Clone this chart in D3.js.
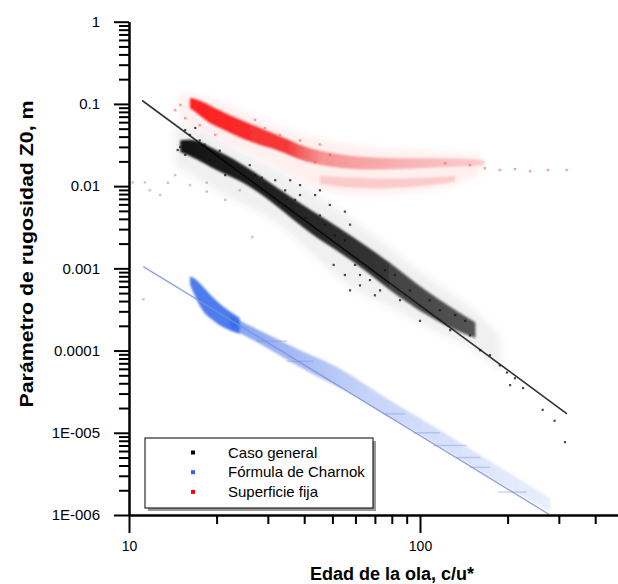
<!DOCTYPE html>
<html>
<head>
<meta charset="utf-8">
<script src="https://cdn.jsdelivr.net/npm/d3@7"></script>
<style>
  body { margin: 0; background: #fff; }
  text { font-family: Arial, "Liberation Sans", sans-serif; }
</style>
</head>
<body>
<div id="chart"></div>
<script>
'use strict';

// ---- data (x = c/u*, y = Z0 in m) ----
const seriesNames = ['Caso general', 'Fórmula de Charnok', 'Superficie fija'];

const yTickValues = [1, 0.1, 0.01, 0.001, 0.0001, 1e-5, 1e-6];
const yTickLabels = ['1', '0.1', '0.01', '0.001', '0.0001', '1E-005', '1E-006'];
const xTickValues = [10, 100];
const xTickLabels = ['10', '100'];

// fitted lines
const casoLineX = [11.1, 320];
const casoLineY = [0.11, 1.7e-5];
const charnokLineX = [11.2, 280];
const charnokLineY = [0.00105, 1e-6];

// caso general: dense core, sparse cloud, single points
const casoCoreX  = [15, 16.9, 19.8, 24, 29.3, 35.8, 43.6, 53.1, 64.7, 78.9, 96.1, 117, 137, 155];
const casoCoreHi = [0.036, 0.038, 0.0275, 0.0196, 0.0122, 0.0074, 0.0047, 0.0031, 0.0019, 0.00118, 0.00066, 0.00041, 0.000286, 0.00022];
const casoCoreLo = [0.026, 0.022, 0.0157, 0.0119, 0.0075, 0.0042, 0.0024, 0.00157, 0.00095, 0.00054, 0.00033, 0.00022, 0.000167, 0.000142];

const casoCloudX  = [14.4, 17.5, 22.2, 30.5, 41.9, 57.5, 78.9, 108, 148.5, 188];
const casoCloudHi = [0.055, 0.05, 0.029, 0.018, 0.0089, 0.0041, 0.0018, 0.00072, 0.00036, 0.00015];
const casoCloudLo = [0.018, 0.0118, 0.0071, 0.0044, 0.00166, 0.00054, 0.00036, 0.00018, 0.000116, 0.000058];

const casoPts = [
  [15.6, 0.048], [16.2, 0.042], [16.9, 0.051], [17.5, 0.036], [15.0, 0.030], [14.7, 0.0275],
  [15.6, 0.024], [18.2, 0.032], [19.0, 0.021], [20.5, 0.027], [21.4, 0.0136], [23.1, 0.0157],
  [26, 0.018], [27.1, 0.0136], [28.6, 0.0127], [31.8, 0.0118], [34.4, 0.0089], [37.2, 0.0068],
  [38.7, 0.0078], [40.3, 0.0041], [45.3, 0.0044], [47.2, 0.0034], [51, 0.0025], [55.2, 0.0022],
  [57.5, 0.0034], [59.8, 0.0011], [62.2, 0.00083], [67.3, 0.00072], [72.9, 0.00054], [75.8, 0.00095],
  [82, 0.00083], [85.4, 0.00041], [92.4, 0.00054], [100, 0.00023], [108, 0.00041], [117, 0.00031],
  [127, 0.000177], [132, 0.00027], [143, 0.00023], [148.5, 0.000153], [161, 0.000101], [174, 0.000088],
  [188, 0.000066], [199, 0.000054], [212, 0.000046], [226, 0.000035], [204, 0.000038], [264, 0.000019],
  [290, 0.000014], [315, 0.0000077], [38.7, 0.0103], [43.6, 0.0078], [49, 0.0059], [55.2, 0.0049],
  [35.8, 0.0118], [45.3, 0.0089], [50.5, 0.0011], [55.2, 0.00083], [62.2, 0.00062], [70, 0.00047],
  [57.5, 0.00054]
];
const casoFaintPts = [
  [10.3, 0.0111], [11.35, 0.0111], [11.8, 0.0089], [12.8, 0.0078], [13.6, 0.011], [14.4, 0.0136],
  [16.2, 0.0103], [18.5, 0.011], [18.5, 0.0086], [21.4, 0.0068], [24, 0.0089], [26.5, 0.0024],
  [11.2, 0.00042]
];

// formula de Charnok
const charnokBlobX  = [16.2, 16.9, 17.5, 18.2, 19.3, 20.5, 22.2, 24];
const charnokBlobHi = [0.0008, 0.00075, 0.00066, 0.00057, 0.00045, 0.00037, 0.0003, 0.00025];
const charnokBlobLo = [0.00064, 0.00045, 0.00035, 0.00028, 0.00024, 0.0002, 0.000175, 0.00016];

const charnokBandX  = [22.2, 26, 31.8, 38.7, 47.2, 57.5, 72.9, 92.4, 117, 148.5, 188, 239, 280];
const charnokBandHi = [0.00027, 0.0002, 0.000142, 0.0001, 0.000075, 0.000052, 0.000029, 0.0000178, 0.0000108, 0.0000064, 0.0000038, 0.0000023, 0.0000016];
const charnokBandLo = [0.00019, 0.000142, 0.000095, 0.000062, 0.000043, 0.000031, 0.0000175, 0.0000112, 0.0000068, 0.000004, 0.0000024, 0.0000015, 0.0000011];

// short horizontal streaks in the tail [x0, x1, z0]
const charnokStreaks = [
  [27.5, 35, 0.00013], [34.8, 42.9, 0.000074], [75.8, 88.8, 1.7e-5], [95, 117, 1.0e-5],
  [111, 145, 7.0e-6], [133, 161, 5.0e-6], [148, 174, 3.8e-6], [185, 232, 1.9e-6]
];

// superficie fija: main band (blob + upper branch), lower branch, cloud
const fijaMainX  = [16.2, 17.5, 19.0, 21.4, 25.0, 30.5, 35.8, 40.3, 53.1, 72.9, 100, 137, 167];
const fijaMainHi = [0.118, 0.111, 0.095, 0.077, 0.061, 0.0455, 0.0363, 0.0292, 0.0239, 0.0218, 0.0218, 0.0218, 0.0207];
const fijaMainLo = [0.089, 0.073, 0.057, 0.048, 0.036, 0.0295, 0.0239, 0.0196, 0.0162, 0.0157, 0.0165, 0.0173, 0.018];

const fijaLowerX  = [45.3, 57.5, 78.9, 108, 132];
const fijaLowerHi = [0.0133, 0.0127, 0.0122, 0.0127, 0.0133];
const fijaLowerLo = [0.0107, 0.0094, 0.0094, 0.0101, 0.0114];

const fijaCloudX  = [15, 20.5, 30.5, 45.3, 72.9, 117, 161];
const fijaCloudHi = [0.139, 0.1115, 0.0553, 0.0363, 0.0275, 0.026, 0.0239];
const fijaCloudLo = [0.0637, 0.0363, 0.0207, 0.0078, 0.0078, 0.0089, 0.0136];

const fijaPts = [
  [167, 0.0165], [188, 0.0157], [212, 0.0161], [239, 0.0152], [275, 0.0157], [319, 0.0157],
  [148.5, 0.018], [122, 0.019], [15, 0.097], [14.4, 0.084], [15.6, 0.067], [17.5, 0.055],
  [19.8, 0.042], [27.1, 0.064], [29.3, 0.051], [33, 0.042], [38.7, 0.036], [45.3, 0.032],
  [49, 0.024], [43.6, 0.0196]
];

// ---- layout ----
const width = 618, height = 584;
const plot = { left: 129, top: 21.7, bottom: 515, right: 618 };

const svg = d3.select('#chart')
    .append('svg')
    .attr('width', width)
    .attr('height', height);

const x = d3.scaleLog().domain([10, 500]).range([plot.left, plot.left + 291 * Math.log10(50)]);
const y = d3.scaleLog().domain([1e-6, 1]).range([plot.bottom, plot.top]);

const defs = svg.append('defs');
defs.append('clipPath').attr('id', 'clip')
    .append('rect')
    .attr('x', plot.left + 1).attr('y', plot.top)
    .attr('width', plot.right - plot.left).attr('height', plot.bottom - plot.top - 1);
defs.append('filter').attr('id', 'soft')
    .append('feGaussianBlur').attr('stdDeviation', 1.3);
defs.append('filter').attr('id', 'softer')
    .append('feGaussianBlur').attr('stdDeviation', 3.5);

// horizontal fades (style only)
function fade(id, x0, x1, stops) {
    const g = defs.append('linearGradient').attr('id', id)
        .attr('gradientUnits', 'userSpaceOnUse')
        .attr('x1', x(x0)).attr('x2', x(x1)).attr('y1', 0).attr('y2', 0);
    stops.forEach(s => g.append('stop')
        .attr('offset', s[0]).attr('stop-color', s[1]).attr('stop-opacity', s[2]));
}
fade('blueFade', 22, 280, [[0, '#4a78ea', 0.7], [0.45, '#86a0ef', 0.45], [1, '#b8c8f6', 0.3]]);
fade('redFade', 16, 170, [[0, '#ff0a0a', 0.92], [0.33, '#f21a1a', 0.85], [0.45, '#ee4a4a', 0.55], [1, '#f28a8a', 0.35]]);
fade('blackFade', 15, 155, [[0, '#000', 0.92], [0.4, '#000', 0.85], [1, '#111', 0.7]]);

const marks = svg.append('g').attr('clip-path', 'url(#clip)');

const toBand = (xs, lo, hi) => xs.map((v, i) => ({ x: v, lo: lo[i], hi: hi[i] }));
const areaGen = d3.area()
    .x(d => x(d.x))
    .y0(d => y(d.lo))
    .y1(d => y(d.hi))
    .curve(d3.curveBasis);
const lineGen = d3.line().x(d => x(d[0])).y(d => y(d[1]));

function drawBand(xs, lo, hi, fill, opacity, filter) {
    marks.append('path')
        .datum(toBand(xs, lo, hi))
        .attr('d', areaGen)
        .attr('fill', fill)
        .attr('fill-opacity', opacity)
        .attr('filter', filter ? `url(#${filter})` : null);
}

function drawPoints(pts, color, size, opacity) {
    marks.append('g').selectAll('rect')
        .data(pts)
        .join('rect')
        .attr('x', d => x(d[0]) - size / 2)
        .attr('y', d => y(d[1]) - size / 2)
        .attr('width', size)
        .attr('height', size)
        .attr('fill', color)
        .attr('fill-opacity', opacity);
}

function drawLine(xs, ys, color, w, opacity) {
    marks.append('path')
        .datum(d3.zip(xs, ys))
        .attr('d', lineGen)
        .attr('fill', 'none')
        .attr('stroke', color)
        .attr('stroke-width', w)
        .attr('stroke-opacity', opacity);
}

// clouds first, then cores
drawBand(fijaCloudX, fijaCloudLo, fijaCloudHi, '#ff7a7a', 0.12, 'softer');
drawBand(casoCloudX, casoCloudLo, casoCloudHi, '#555', 0.09, 'softer');

// superficie fija
drawBand(fijaLowerX, fijaLowerLo, fijaLowerHi, '#f07070', 0.28, 'soft');
drawBand(fijaMainX, fijaMainLo, fijaMainHi, 'url(#redFade)', 1, 'soft');
drawPoints(fijaPts, '#f04a4a', 2.5, 0.5);

// formula de Charnok
drawBand(charnokBandX, charnokBandLo, charnokBandHi, 'url(#blueFade)', 1, 'soft');
drawBand(charnokBlobX, charnokBlobLo, charnokBlobHi, '#2f64ec', 0.85, 'soft');
marks.append('g').selectAll('line')
    .data(charnokStreaks)
    .join('line')
    .attr('x1', d => x(d[0])).attr('x2', d => x(d[1]))
    .attr('y1', d => y(d[2])).attr('y2', d => y(d[2]))
    .attr('stroke', '#7b96e6')
    .attr('stroke-opacity', 0.4)
    .attr('stroke-width', 1.5);
drawLine(charnokLineX, charnokLineY, '#7d8fd8', 1.3, 0.85);

// caso general: fit line sits under the dense core
drawLine(casoLineX, casoLineY, '#333', 1.6, 1);
drawBand(casoCoreX, casoCoreLo, casoCoreHi, 'url(#blackFade)', 1, 'soft');
drawPoints(casoFaintPts, '#888', 2.5, 0.45);
drawPoints(casoPts, '#111', 2.2, 0.75);

// ---- axes ----
const yMinor = y.ticks().filter(v => !yTickValues.some(m => Math.abs(m - v) / m < 1e-6));
const xMinor = x.ticks().filter(v => !xTickValues.includes(v));

function styleAxis(g) {
    g.selectAll('path, line').attr('stroke', '#000').attr('stroke-width', 2);
    g.selectAll('text').attr('fill', '#000').attr('font-family', 'Arial, "Liberation Sans", sans-serif');
}

svg.append('g')
    .attr('transform', `translate(${plot.left},0)`)
    .call(d3.axisLeft(y).tickValues(yMinor).tickSize(10).tickSizeOuter(0).tickFormat(''))
    .call(styleAxis);
svg.append('g')
    .attr('transform', `translate(${plot.left},0)`)
    .call(d3.axisLeft(y).tickValues(yTickValues).tickSize(15).tickSizeOuter(0).tickPadding(14)
        .tickFormat((d, i) => yTickLabels[i]))
    .call(styleAxis)
    .call(g => g.selectAll('text').attr('font-size', 15));

svg.append('g')
    .attr('transform', `translate(0,${plot.bottom})`)
    .call(d3.axisBottom(x).tickValues(xMinor).tickSize(9).tickSizeOuter(0).tickFormat(''))
    .call(styleAxis);
svg.append('g')
    .attr('transform', `translate(0,${plot.bottom})`)
    .call(d3.axisBottom(x).tickValues(xTickValues).tickSize(18).tickSizeOuter(0).tickPadding(8)
        .tickFormat((d, i) => xTickLabels[i]))
    .call(styleAxis)
    .call(g => g.selectAll('text').attr('font-size', 14));

// axis titles
svg.append('text')
    .attr('x', 392).attr('y', 580)
    .attr('text-anchor', 'middle')
    .attr('font-size', 18).attr('font-weight', 'bold')
    .text('Edad de la ola, c/u*');
svg.append('text')
    .attr('transform', 'translate(33,254) rotate(-90)')
    .attr('text-anchor', 'middle')
    .attr('font-size', 18).attr('font-weight', 'bold')
    .attr('textLength', 307).attr('lengthAdjust', 'spacingAndGlyphs')
    .text('Parámetro de rugosidad Z0, m');

// ---- legend ----
const legendColors = ['#000', '#2f5ff0', '#ff0000'];
const legend = svg.append('g').attr('transform', 'translate(145,438)');
legend.append('rect')
    .attr('x', 3).attr('y', 3).attr('width', 228).attr('height', 70)
    .attr('fill', '#9a9a9a');
legend.append('rect')
    .attr('width', 228).attr('height', 70)
    .attr('fill', '#fff').attr('stroke', '#000').attr('stroke-width', 1);
const rows = legend.selectAll('g.row')
    .data(seriesNames)
    .join('g')
    .attr('class', 'row')
    .attr('transform', (d, i) => `translate(0,${14.5 + i * 19.7})`);
rows.append('rect')
    .attr('x', 46).attr('y', -2).attr('width', 4).attr('height', 4)
    .attr('fill', (d, i) => legendColors[i]);
rows.append('text')
    .attr('x', 83).attr('dy', '0.35em')
    .attr('font-size', 15)
    .text(d => d);
</script>
</body>
</html>
